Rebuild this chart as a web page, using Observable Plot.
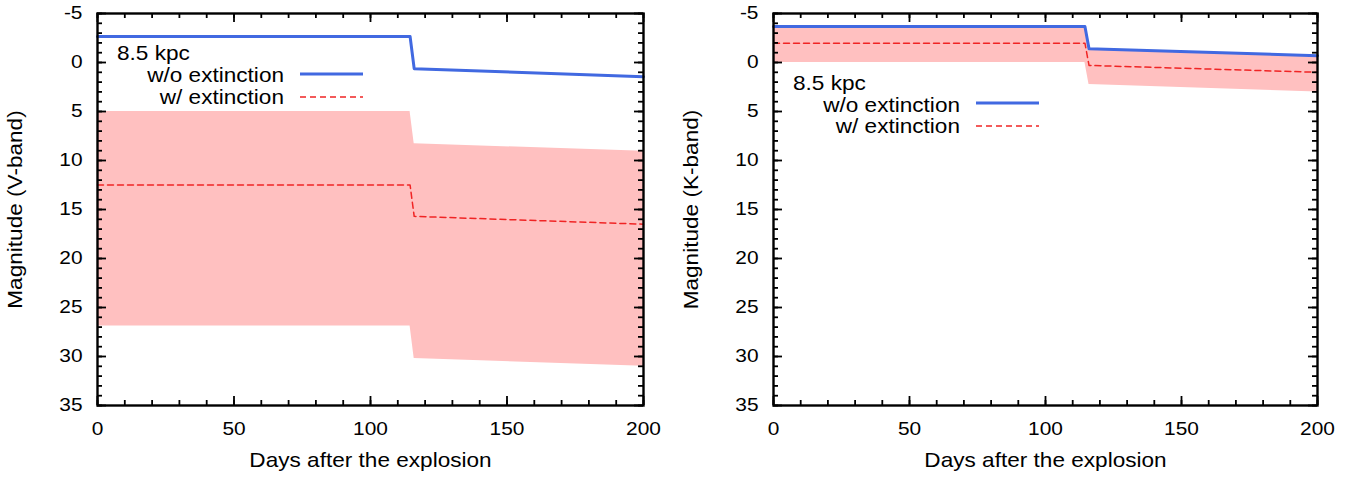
<!DOCTYPE html>
<html><head><meta charset="utf-8">
<script src="https://cdn.jsdelivr.net/npm/d3@7"></script>
<script src="https://cdn.jsdelivr.net/npm/@observablehq/plot@0.6"></script>
<style>
body{margin:0;background:#fff;}
#wrap{display:flex;width:1363px;height:478px;overflow:hidden;}
</style></head><body><div id="wrap"></div>
<script>
// ---- data ----
const days = [0, 114.5, 116, 200];

const vNoExt      = [-2.65, -2.65, 0.63, 1.45];
const vExt        = [12.5, 12.5, 15.7, 16.5];
const vBandTop    = [5.0, 5.0, 8.3, 9.05];
const vBandBottom = [26.9, 26.9, 30.2, 31.0];

const kNoExt      = [-3.67, -3.67, -1.4, -0.7];
const kExt        = [-1.97, -1.97, 0.3, 1.0];
const kBandTop    = [-3.6, -3.6, -1.35, -0.65];
const kBandBottom = [0.0, 0.0, 2.25, 3.0];

const xMajorTicks = [0, 50, 100, 150, 200];
const xMinorTicks = d3.range(0, 201, 10);
const yMajorTicks = [-5, 0, 5, 10, 15, 20, 25, 30, 35];
const yMinorTicks = d3.range(-5, 36, 1);

const xLabel = "Days after the explosion";
const legendTitle = "8.5 kpc";
const legendNames = ["w/o extinction", "w/ extinction"];

// ---- styling ----
const H = 478, MT = 13, MB = 73;
const FONT = "'Liberation Sans', Arial, Helvetica, sans-serif";
const PINK = "#ffc0c0", BLUE = "#4169e1", RED = "#f02424";
const SX = 1.13;         // horizontal glyph stretch of the reference lettering
const TICK_FS = 18.5, LABEL_FS = 20;

const isNum = s => s != null && /^\s*-?[\d.]+(e-?\d+)?\s*$/i.test(s);
function stretchText(svg) {
  svg.querySelectorAll("text").forEach(t => {
    const ax = t.getAttribute("x"), ay = t.getAttribute("y");
    let x = 0, y = 0;
    if (isNum(ax)) { x = +ax; t.removeAttribute("x"); }
    if (isNum(ay)) { y = +ay; t.removeAttribute("y"); }
    const tr = t.getAttribute("transform") || "";
    t.setAttribute("transform", `${tr} translate(${x},${y}) scale(${SX},1)`);
  });
  return svg;
}

function panel(o) {
  const innerH = H - MT - MB;
  const innerW = o.width - o.ml - o.mr;
  const rows = days.map((d, i) => ({day: d, noExt: o.noExt[i], ext: o.ext[i], top: o.bandTop[i], bottom: o.bandBottom[i]}));
  const legend = () => {
    const g = d3.create("svg:g").attr("font-family", FONT).attr("font-size", LABEL_FS).attr("fill", "black");
    const x0 = o.ml, y0 = MT, L = o.leg;
    g.append("text").attr("text-anchor", "start").attr("x", x0 + 20).attr("y", y0 + L[0]).text(legendTitle);
    g.append("text").attr("text-anchor", "end").attr("x", x0 + 187).attr("y", y0 + L[1]).text(legendNames[0]);
    g.append("line").attr("x1", x0 + 203).attr("x2", x0 + 266).attr("y1", y0 + L[2]).attr("y2", y0 + L[2])
      .attr("stroke", BLUE).attr("stroke-width", 3);
    g.append("text").attr("text-anchor", "end").attr("x", x0 + 187).attr("y", y0 + L[3]).text(legendNames[1]);
    g.append("line").attr("x1", x0 + 203).attr("x2", x0 + 266).attr("y1", y0 + L[4]).attr("y2", y0 + L[4])
      .attr("stroke", RED).attr("stroke-width", 1.5).attr("stroke-dasharray", "6,4");
    return g.node();
  };
  const svg = Plot.plot({
    width: o.width, height: H,
    marginLeft: o.ml, marginRight: o.mr, marginTop: MT, marginBottom: MB,
    style: {fontFamily: FONT, fontSize: TICK_FS + "px", background: "white", color: "black", overflow: "visible"},
    x: {domain: [0, 200]},
    y: {domain: [-5, 35], reverse: true},
    marks: [
      Plot.areaY(rows, {x: "day", y1: "top", y2: "bottom", fill: PINK}),
      Plot.lineY(rows, {x: "day", y: "ext", stroke: RED, strokeWidth: 1.5, strokeDasharray: "6,4"}),
      Plot.lineY(rows, {x: "day", y: "noExt", stroke: BLUE, strokeWidth: 3}),
      // inward ticks (gnuplot style, mirrored)
      Plot.tickX(xMinorTicks, {x: d => d, insetTop: innerH - 5, stroke: "black", strokeWidth: 1.8}),
      Plot.tickX(xMinorTicks, {x: d => d, insetBottom: innerH - 5, stroke: "black", strokeWidth: 1.8}),
      Plot.tickX(xMajorTicks, {x: d => d, insetTop: innerH - 9, stroke: "black", strokeWidth: 1.8}),
      Plot.tickX(xMajorTicks, {x: d => d, insetBottom: innerH - 9, stroke: "black", strokeWidth: 1.8}),
      Plot.tickY(yMinorTicks, {y: d => d, insetRight: innerW - 5, stroke: "black", strokeWidth: 1.8}),
      Plot.tickY(yMinorTicks, {y: d => d, insetLeft: innerW - 5, stroke: "black", strokeWidth: 1.8}),
      Plot.tickY(yMajorTicks, {y: d => d, insetRight: innerW - 9, stroke: "black", strokeWidth: 1.8}),
      Plot.tickY(yMajorTicks, {y: d => d, insetLeft: innerW - 9, stroke: "black", strokeWidth: 1.8}),
      Plot.frame({stroke: "black", strokeWidth: 2.4}),
      Plot.axisX(xMajorTicks, {tickSize: 0, tickPadding: 16.5, tickFormat: d => String(d), label: null, fontSize: TICK_FS}),
      Plot.axisY(yMajorTicks, {tickSize: 0, tickPadding: 15, tickFormat: d => String(d), label: null, fontSize: TICK_FS}),
      Plot.text([xLabel], {frameAnchor: "bottom", textAnchor: "middle", lineAnchor: "middle", dy: 55, text: d => d, fontSize: LABEL_FS}),
      Plot.text([o.yLabel], {frameAnchor: "left", textAnchor: "middle", lineAnchor: "middle", rotate: -90, dx: -82, text: d => d, fontSize: LABEL_FS}),
      legend
    ]
  });
  return stretchText(svg);
}

const wrap = document.getElementById("wrap");
wrap.append(panel({
  width: 681, ml: 97, mr: 38,
  noExt: vNoExt, ext: vExt, bandTop: vBandTop, bandBottom: vBandBottom,
  yLabel: "Magnitude (V-band)",
  leg: [47, 68.7, 61, 90.5, 84]
}));
wrap.append(panel({
  width: 682, ml: 92, mr: 46,
  noExt: kNoExt, ext: kExt, bandTop: kBandTop, bandBottom: kBandBottom,
  yLabel: "Magnitude (K-band)",
  leg: [77, 98.5, 90, 120, 113]
}));
</script>
</body></html>
